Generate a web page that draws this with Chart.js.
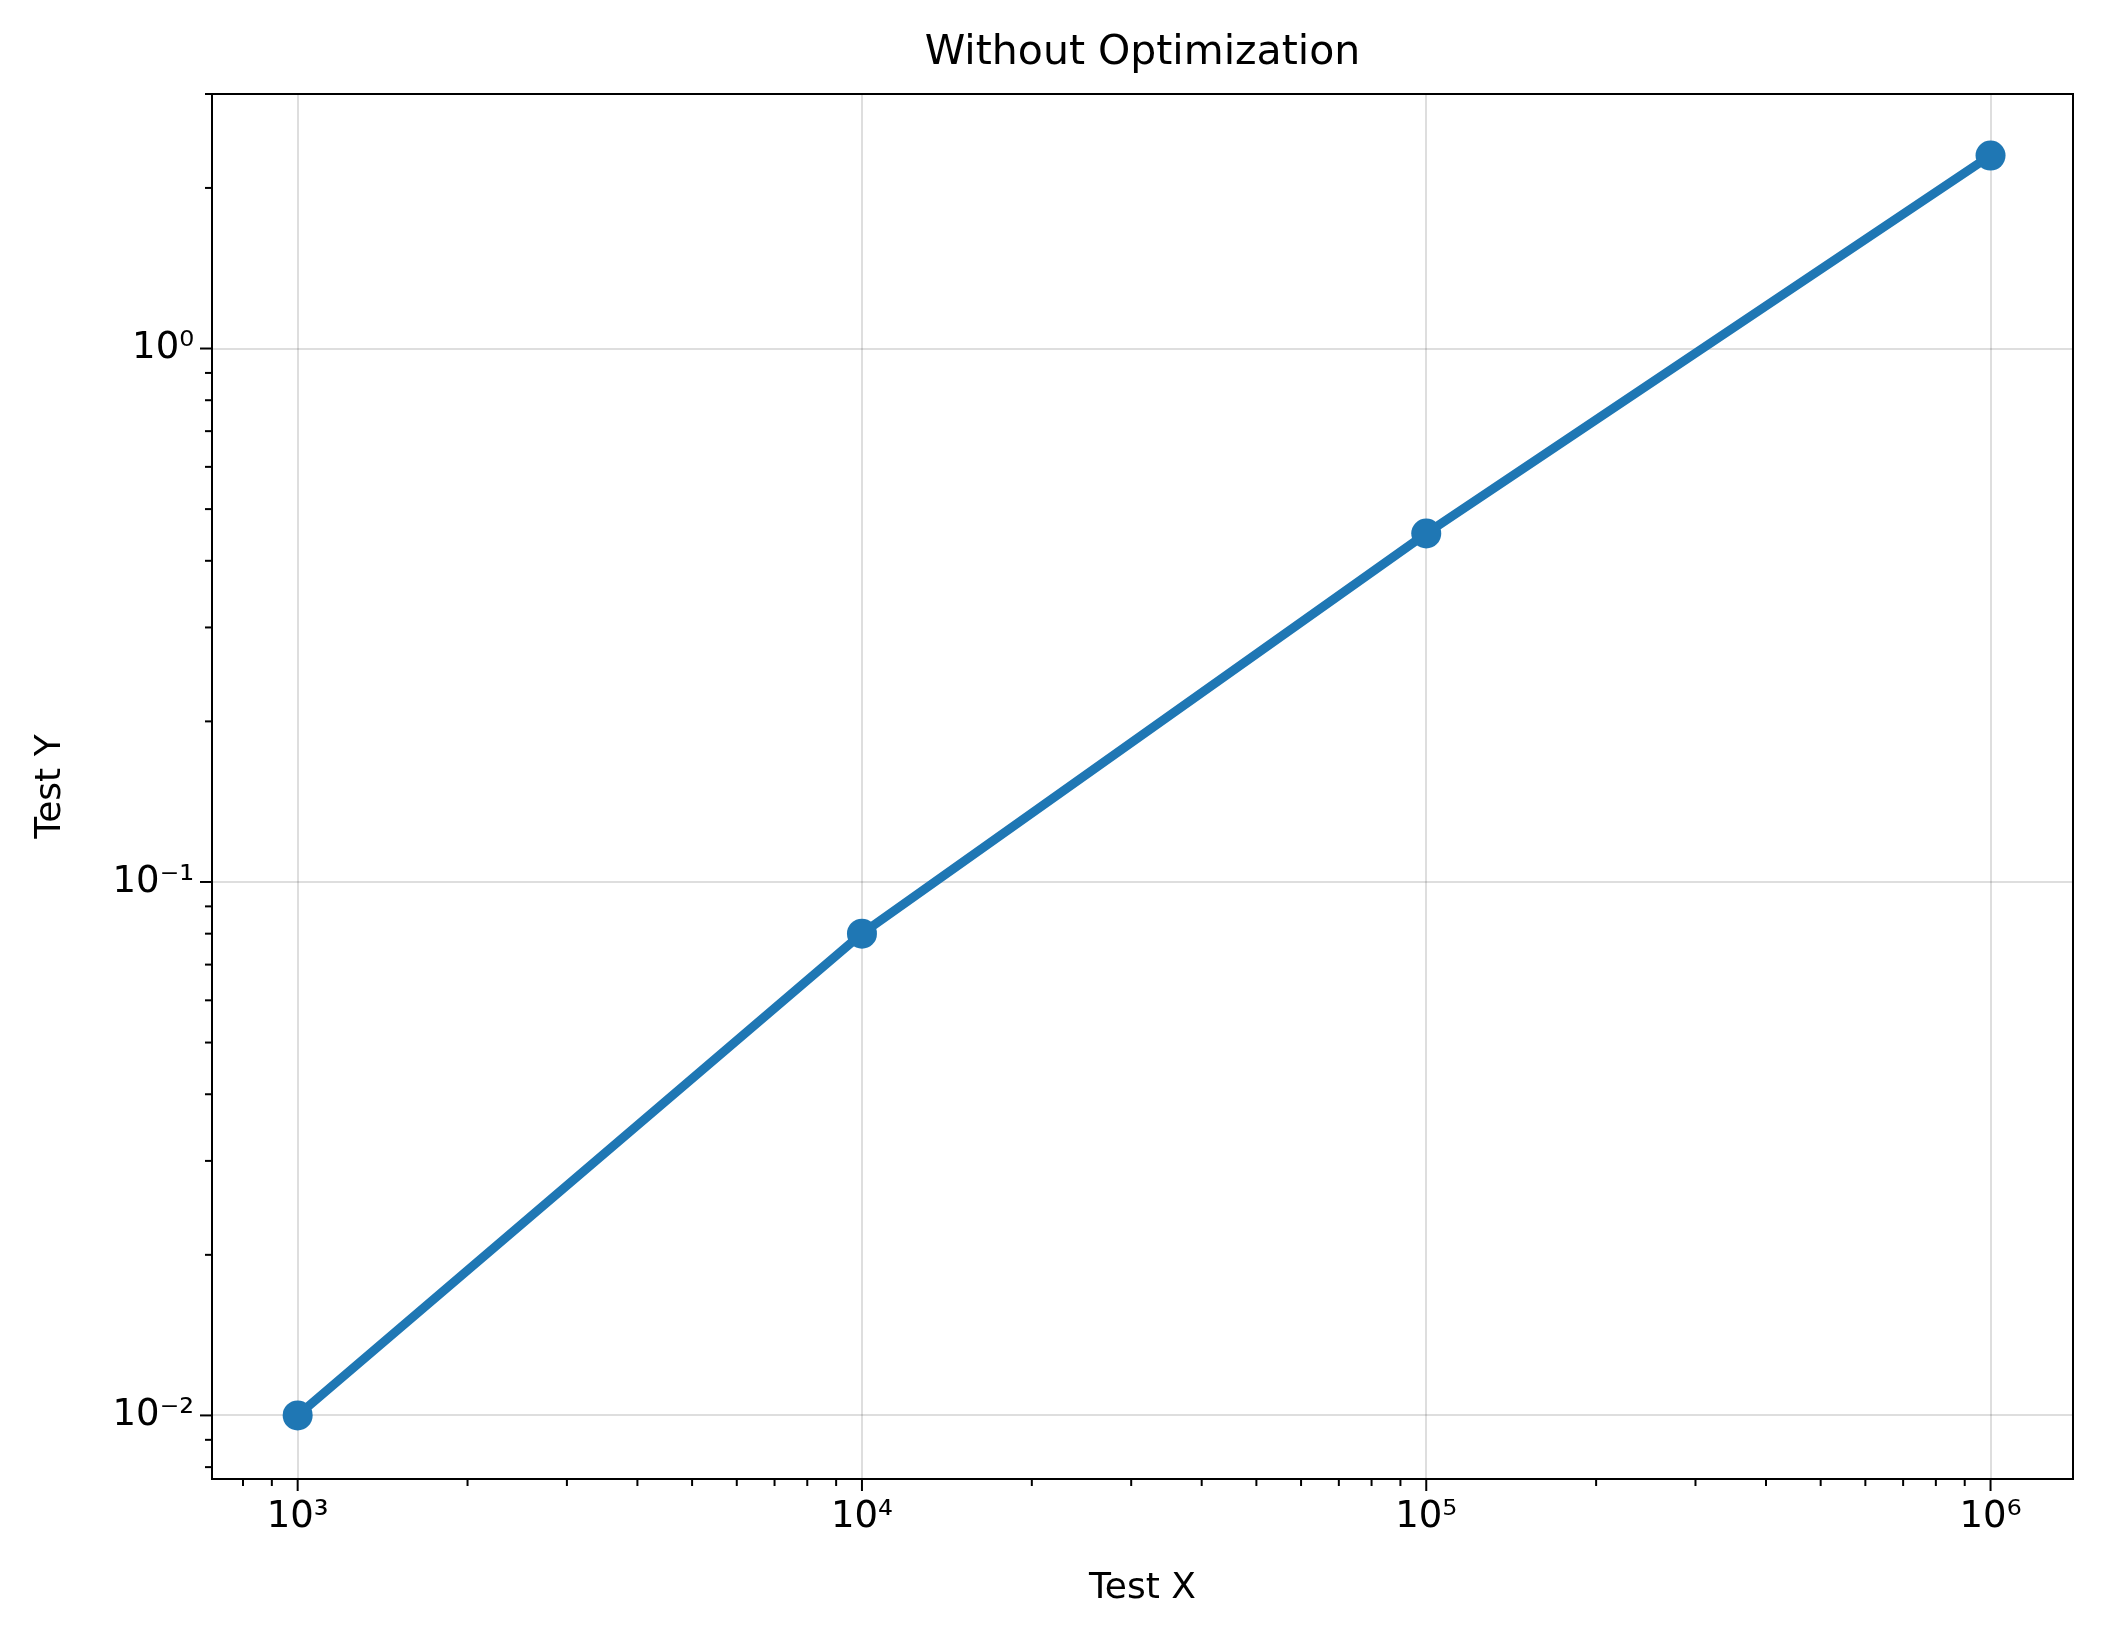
<!DOCTYPE html>
<html><head><meta charset="utf-8">
<script src="https://cdn.jsdelivr.net/npm/chart.js@4"></script>
<style>html,body{margin:0;background:#fff}#wrap{width:2103px;height:1639px}</style>
</head><body><div id="wrap"><canvas id="c"></canvas></div>
<script>
// data
const xValues = [1e3, 1e4, 1e5, 1e6];
const yValues = [0.01, 0.08, 0.45, 2.3];
const xRange = [705, 1.40e6];
const yRange = [0.0076, 3.0];
const sup = {"-":"⁻","0":"⁰","1":"¹","2":"²","3":"³","4":"⁴","5":"⁵","6":"⁶","7":"⁷","8":"⁸","9":"⁹"};
const FONT = "'DejaVu Sans'";

function logTicks(min,max){
  const t=[];
  for(let e=Math.floor(Math.log10(min));e<=Math.ceil(Math.log10(max));e++)
    for(let m=1;m<10;m++){const v=m*Math.pow(10,e);if(v>=min&&v<=max)t.push({value:v});}
  return t;
}
const isMajor = v => Math.abs(Math.log10(v)-Math.round(Math.log10(v)))<1e-9;
const label = v => "10"+String(Math.round(Math.log10(v))).split("").map(c=>sup[c]).join("");

const extras = {
  id:"extras",
  afterDraw(chart){
    const ctx=chart.ctx, a=chart.chartArea;
    ctx.save();
    ctx.strokeStyle="#000"; ctx.lineWidth=2;
    ctx.strokeRect(a.left,a.top,a.right-a.left,a.bottom-a.top);
    const xs=chart.scales.x, ys=chart.scales.y;
    xs.ticks.forEach(t=>{const p=xs.getPixelForValue(t.value),L=isMajor(t.value)?12:7;
      ctx.beginPath();ctx.moveTo(p,a.bottom);ctx.lineTo(p,a.bottom+L);ctx.stroke();});
    ys.ticks.forEach(t=>{const p=ys.getPixelForValue(t.value),L=isMajor(t.value)?12:7;
      ctx.beginPath();ctx.moveTo(a.left,p);ctx.lineTo(a.left-L,p);ctx.stroke();});
    ctx.fillStyle="#000";ctx.textAlign="center";
    ctx.font="41px "+FONT;ctx.textBaseline="alphabetic";
    ctx.fillText("Without Optimization",(a.left+a.right)/2,64);
    ctx.font="36px "+FONT;
    ctx.fillText("Test X",(a.left+a.right)/2,1598);
    ctx.translate(60,(a.top+a.bottom)/2);ctx.rotate(-Math.PI/2);
    ctx.fillText("Test Y",0,0);
    ctx.restore();
  }
};

const tickFont={family:FONT,size:37};
new Chart(document.getElementById("c"),{
  type:"line",
  data:{datasets:[{data:xValues.map((x,i)=>({x:x,y:yValues[i]})),
    borderColor:"#1f77b4",backgroundColor:"#1f77b4",borderWidth:9,
    pointRadius:15,pointHoverRadius:15,pointBorderWidth:0}]},
  options:{
    responsive:true,maintainAspectRatio:false,animation:false,
    devicePixelRatio:1,
    layout:{padding:{top:94,right:30,left:0,bottom:0}},
    plugins:{legend:{display:false},tooltip:{enabled:false}},
    scales:{
      x:{type:"logarithmic",min:xRange[0],max:xRange[1],
        afterBuildTicks:s=>{s.ticks=logTicks(xRange[0],xRange[1]);},
        afterFit:s=>{s.height=160;},
        border:{display:false},
        grid:{drawTicks:false,color:c=>c.tick&&isMajor(c.tick.value)?"rgba(0,0,0,0.13)":"rgba(0,0,0,0)",lineWidth:2},
        ticks:{autoSkip:false,maxRotation:0,padding:16,color:"#000",font:tickFont,
          callback:v=>isMajor(v)?label(v):""}},
      y:{type:"logarithmic",min:yRange[0],max:yRange[1],
        afterBuildTicks:s=>{s.ticks=logTicks(yRange[0],yRange[1]);},
        afterFit:s=>{s.width=212;},
        border:{display:false},
        grid:{drawTicks:false,color:c=>c.tick&&isMajor(c.tick.value)?"rgba(0,0,0,0.13)":"rgba(0,0,0,0)",lineWidth:2},
        ticks:{autoSkip:false,padding:18,color:"#000",font:tickFont,
          callback:v=>isMajor(v)?label(v):""}}
    }
  },
  plugins:[extras]
});
</script></body></html>
